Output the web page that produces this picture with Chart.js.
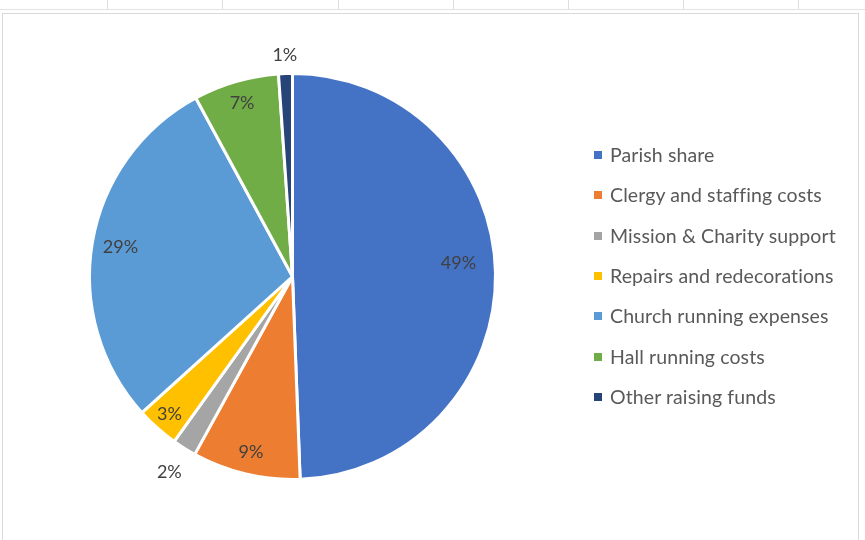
<!DOCTYPE html>
<html>
<head>
<meta charset="utf-8">
<script src="https://cdn.jsdelivr.net/npm/chart.js@4"></script>
<style>
  html, body { margin: 0; padding: 0; background: #fff; }
  #wrap { position: relative; width: 865px; height: 540px; overflow: hidden; font-family: Lato, "Open Sans", sans-serif; }
  #sheet { position: absolute; left: 0; top: 0; width: 865px; height: 9px; border-bottom: 1px solid #e3e3e3; }
  .vline { position: absolute; top: 0; width: 1px; height: 9px; background: #dedede; }
  #frame { position: absolute; left: 2px; top: 13px; width: 857px; height: 540px; border: 1px solid #d9d9d9; border-bottom: none; box-sizing: border-box; }
  #c { position: absolute; left: 0; top: 0; }
  #legend { position: absolute; left: 594px; top: 0; }
  .item { position: absolute; left: 0; white-space: nowrap; font-size: 19.5px; color: #595959; line-height: 22px; letter-spacing: 0.1px; }
  .box { display: inline-block; width: 8px; height: 8px; margin-right: 8px; vertical-align: 3px; }
</style>
</head>
<body>
<div id="wrap">
  <div id="sheet"></div>
  <div id="frame"></div>
  <canvas id="c" width="865" height="540"></canvas>
  <div id="legend"></div>
</div>
<script>
const categories = ["Parish share", "Clergy and staffing costs", "Mission & Charity support", "Repairs and redecorations", "Church running expenses", "Hall running costs", "Other raising funds"];
const values = [49.4, 8.6, 1.9, 3.4, 28.8, 6.8, 1.1];
const colors = ["#4472C4", "#ED7D31", "#A5A5A5", "#FFC000", "#5B9BD5", "#70AD47", "#264478"];

// spreadsheet column lines
const sheet = document.getElementById('sheet');
[107, 222, 338, 453, 568, 683, 798].forEach(x => {
  const d = document.createElement('div'); d.className = 'vline'; d.style.left = x + 'px'; sheet.appendChild(d);
});

// label placement style: fraction of radius (inside) or offset outside (negative => outside by px)
const labelPlace = [0.82, 0.89, -28, 0.91, 0.86, 0.89, -18];
const labelAngleShift = [-0.06, 0, 0, 0, 0, 0, 0];

const labelPlugin = {
  id: 'pctLabels',
  afterDatasetsDraw(chart) {
    const ctx = chart.ctx;
    const meta = chart.getDatasetMeta(0);
    const data = chart.data.datasets[0].data;
    const total = data.reduce((a, b) => a + b, 0);
    ctx.save();
    ctx.font = '18px Lato, "Open Sans", sans-serif';
    ctx.fillStyle = '#404040';
    ctx.textAlign = 'center';
    ctx.textBaseline = 'middle';
    meta.data.forEach((arc, i) => {
      const p = arc.getProps(['x', 'y', 'startAngle', 'endAngle', 'outerRadius'], true);
      const mid = (p.startAngle + p.endAngle) / 2 + labelAngleShift[i];
      const f = labelPlace[i];
      const r = f > 0 ? p.outerRadius * f : p.outerRadius - f;
      const x = p.x + Math.cos(mid) * r;
      const y = p.y + Math.sin(mid) * r;
      ctx.fillText(Math.round(data[i] / total * 100) + '%', x, y);
    });
    ctx.restore();
  }
};

const chart = new Chart(document.getElementById('c'), {
  type: 'pie',
  data: {
    labels: categories,
    datasets: [{ data: values, backgroundColor: colors, borderColor: '#ffffff', borderWidth: 3 }]
  },
  options: {
    responsive: false,
    animation: false,
    layout: { padding: { left: 88, right: 368, top: 72, bottom: 59 } },
    plugins: { legend: { display: false }, tooltip: { enabled: false } }
  },
  plugins: [labelPlugin]
});

// legend built from the same arrays
const legend = document.getElementById('legend');
const legendTop = 155, legendStep = 40.3;
categories.forEach((name, i) => {
  const it = document.createElement('div');
  it.className = 'item';
  it.style.top = (legendTop + i * legendStep - 11) + 'px';
  it.innerHTML = '<span class="box" style="background:' + colors[i] + '"></span>' + name.replace('&', '&amp;');
  legend.appendChild(it);
});
</script>
</body>
</html>
